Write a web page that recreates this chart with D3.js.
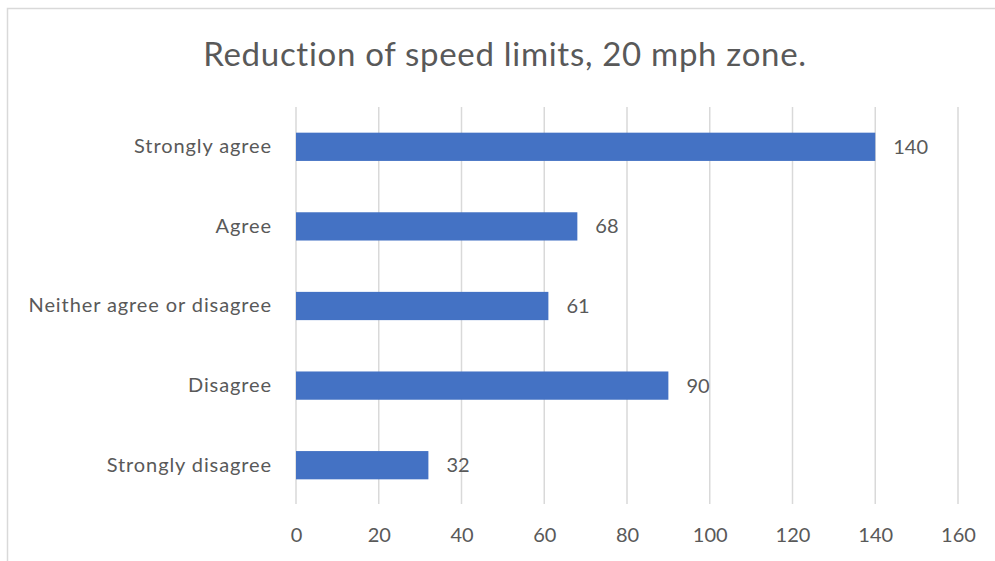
<!DOCTYPE html>
<meta charset="utf-8">
<script src="https://d3js.org/d3.v7.min.js"></script>
<style>
  body { margin: 0; background: #fff; }
  text { font-family: Lato, "Open Sans", sans-serif; fill: #595959; }
</style>
<div id="chart"></div>
<script>
  // data
  var categories = ["Strongly agree", "Agree", "Neither agree or disagree", "Disagree", "Strongly disagree"];
  var values = [140, 68, 61, 90, 32];
  var xTicks = [0, 20, 40, 60, 80, 100, 120, 140, 160];
  var title = "Reduction of speed limits, 20 mph zone.";

  var W = 995, H = 561;
  var margin = {top: 107, left: 296, right: 37, bottom: 56};
  var width = W - margin.left - margin.right,
      height = H - margin.top - margin.bottom;

  var svg = d3.select("#chart").append("svg")
      .attr("width", W)
      .attr("height", H);

  // chart frame
  svg.append("rect")
      .attr("x", 7.5).attr("y", 8.5)
      .attr("width", W + 10).attr("height", H + 10)
      .attr("fill", "none")
      .attr("stroke", "#d9d9d9")
      .attr("stroke-width", 1.5);

  svg.append("text")
      .attr("x", 505).attr("y", 66)
      .attr("text-anchor", "middle")
      .style("font-size", "33px")
      .style("letter-spacing", "0.7px")
      .text(title);

  var g = svg.append("g")
      .attr("transform", "translate(" + margin.left + "," + margin.top + ")");

  var x = d3.scaleLinear().domain([0, 160]).range([0, width]);
  var y = d3.scaleBand().domain(categories).range([0, height])
      .paddingInner(0.645).paddingOuter(0.3225);

  // gridlines
  g.selectAll(".grid")
    .data(xTicks)
    .enter().append("line")
      .attr("x1", function(d) { return x(d); })
      .attr("x2", function(d) { return x(d); })
      .attr("y1", 0).attr("y2", height - 1)
      .attr("stroke", "#d9d9d9")
      .attr("stroke-width", 1.5);

  // x axis labels
  var xAxis = g.append("g")
      .attr("transform", "translate(0," + height + ")")
      .call(d3.axisBottom(x).tickValues(xTicks).tickSize(0).tickPadding(23));
  xAxis.select(".domain").remove();
  xAxis.selectAll("text")
      .style("font-size", "20px")
      .attr("fill", "#595959");

  // y axis labels
  var yAxis = g.append("g")
      .call(d3.axisLeft(y).tickSize(0).tickPadding(24));
  yAxis.select(".domain").remove();
  yAxis.selectAll("text")
      .style("font-size", "20px")
      .style("letter-spacing", "0.9px")
      .attr("fill", "#595959");

  // bars
  g.selectAll(".bar")
    .data(values)
    .enter().append("rect")
      .attr("x", x(0))
      .attr("y", function(d, i) { return y(categories[i]); })
      .attr("width", function(d) { return x(d) - x(0); })
      .attr("height", y.bandwidth())
      .attr("fill", "#4472c4");

  // value labels
  g.selectAll(".lbl")
    .data(values)
    .enter().append("text")
      .attr("x", function(d) { return x(d) + 18; })
      .attr("y", function(d, i) { return y(categories[i]) + y.bandwidth() / 2; })
      .attr("dy", "0.35em")
      .style("font-size", "20px")
      .text(function(d) { return d; });
</script>
